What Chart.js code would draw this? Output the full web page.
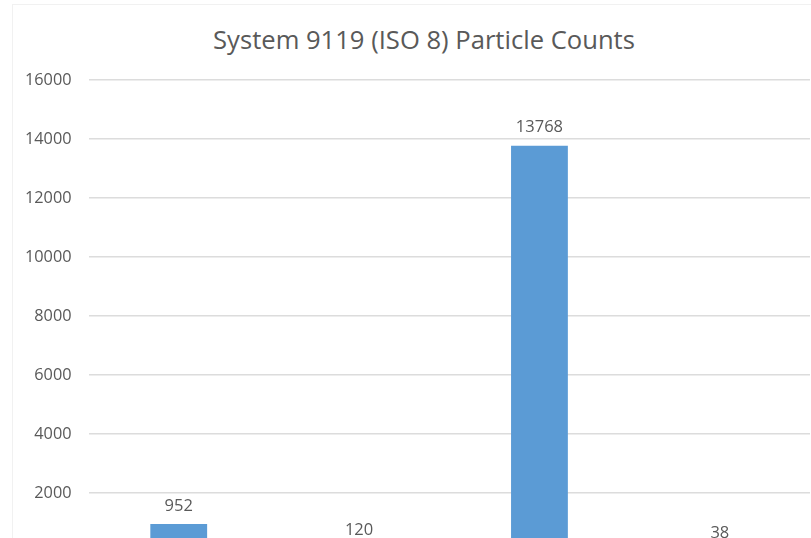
<!DOCTYPE html>
<html>
<head>
<meta charset="utf-8">
<script src="https://cdn.jsdelivr.net/npm/chart.js@4.4.1/dist/chart.umd.min.js"></script>
<style>
  html, body { margin: 0; padding: 0; background: #fff; overflow: hidden; width: 811px; height: 538px; }
  #frame { position: absolute; left: 12px; top: 4px; width: 820px; height: 560px; border: 1px solid #f1f1f1; }
  #title { position: absolute; left: 0; width: 848px; top: 22px; text-align: center;
           font-family: "Open Sans", sans-serif; font-size: 25.6px; color: #595959; white-space: nowrap; }
  #c { position: absolute; left: 0; top: 0; }
</style>
</head>
<body>
<div id="frame"></div>
<div id="title">System 9119 (ISO 8) Particle Counts</div>
<canvas id="c" width="811" height="579"></canvas>
<script>
const categories = ["0.3 µm", "0.5 µm", "1.0 µm", "5.0 µm"];
const counts = [952, 120, 13768, 38];
const yTicks = [0, 2000, 4000, 6000, 8000, 10000, 12000, 14000, 16000];

const valueLabels = {
  id: 'valueLabels',
  afterDatasetsDraw(chart) {
    const ctx = chart.ctx;
    const meta = chart.getDatasetMeta(0);
    ctx.save();
    ctx.font = '16.5px "Open Sans", sans-serif';
    ctx.fillStyle = '#595959';
    ctx.textAlign = 'center';
    ctx.textBaseline = 'bottom';
    meta.data.forEach((bar, i) => {
      ctx.fillText(String(counts[i]), bar.x, bar.y - 10);
    });
    ctx.restore();
  }
};

new Chart(document.getElementById('c'), {
  type: 'bar',
  data: {
    labels: categories,
    datasets: [{
      data: counts,
      backgroundColor: '#5b9bd5',
      borderWidth: 0,
      categoryPercentage: 1,
      barPercentage: 0.315
    }]
  },
  options: {
    responsive: false,
    animation: false,
    devicePixelRatio: 1,
    layout: { padding: { left: 8, right: 1, top: 80, bottom: 8 } },
    plugins: { legend: { display: false }, tooltip: { enabled: false }, title: { display: false } },
    scales: {
      x: { display: false },
      y: {
        min: yTicks[0],
        max: yTicks[yTicks.length - 1],
        afterBuildTicks(axis) { axis.ticks = yTicks.map(v => ({ value: v })); },
        border: { display: false },
        grid: { color: '#dcdcdc', lineWidth: 1.5, drawTicks: false },
        ticks: {
          padding: 17,
          color: '#595959',
          font: { family: '"Open Sans", sans-serif', size: 16.3 },
          callback: (v) => String(v)
        }
      }
    }
  },
  plugins: [valueLabels]
});
</script>
</body>
</html>
